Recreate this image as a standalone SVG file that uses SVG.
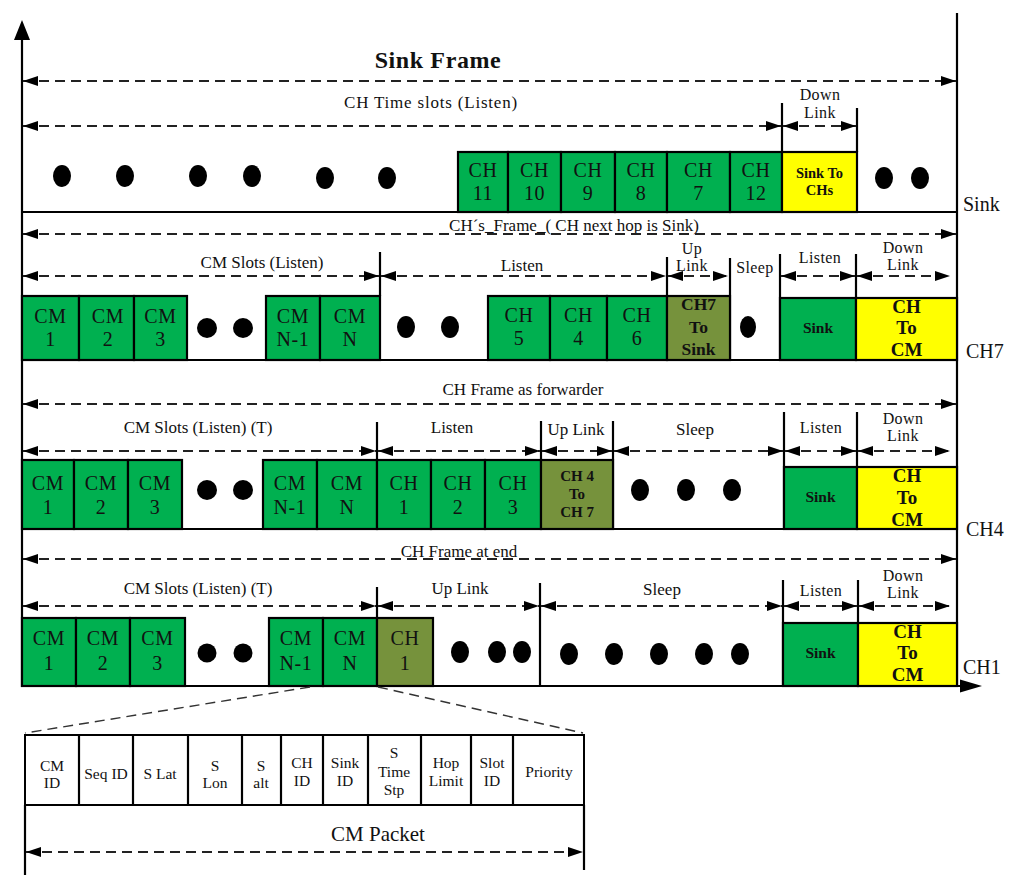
<svg xmlns="http://www.w3.org/2000/svg" width="1024" height="891" viewBox="0 0 1024 891">
<style>
.g{fill:#00B050;stroke:#000;stroke-width:2.2}
.y{fill:#FFFF00;stroke:#000;stroke-width:2.2}
.o{fill:#76923C;stroke:#000;stroke-width:2.2}
.w{fill:#fff;stroke:#000;stroke-width:2}
.ln{stroke:#000;stroke-width:2.2;fill:none}
.d{stroke:#222;stroke-width:1.8;stroke-dasharray:10 6;fill:none;marker-start:url(#a);marker-end:url(#a)}
.dl{stroke:#333;stroke-width:1.4;stroke-dasharray:10 6;fill:none}
.dot{fill:#000}
text{font-family:"Liberation Serif","Times New Roman",serif;fill:#111;text-anchor:middle}
.bx{font-size:20px;letter-spacing:0.6px}
.lb{font-size:17px}
.sm{font-size:16px;letter-spacing:0.4px}
.pf{font-size:15.5px}
.b{font-weight:bold}
.rl{font-size:20px;text-anchor:start}
</style>
<defs>
<marker id="a" viewBox="0 0 15 10" refX="15" refY="5" markerWidth="15" markerHeight="10" markerUnits="userSpaceOnUse" orient="auto-start-reverse" preserveAspectRatio="none"><path d="M0,0L15,5L0,10z" fill="#000"/></marker>
</defs>
<rect width="1024" height="891" fill="#fff"/>

<g id="axes">
<line class="ln" x1="22" y1="36" x2="22" y2="687" stroke-width="2.5"/>
<polygon points="22,20 14,40 30,40" fill="#000"/>
<line class="ln" x1="957" y1="13" x2="957" y2="687" stroke-width="2.5"/>
<line class="ln" x1="22" y1="686" x2="962" y2="686" stroke-width="2.5"/>
<polygon points="982,686 960,679.5 960,692.5" fill="#000"/>
<line class="ln" x1="22" y1="212" x2="957" y2="212"/>
<line class="ln" x1="22" y1="360" x2="957" y2="360"/>
<line class="ln" x1="22" y1="529" x2="957" y2="529"/>
</g>

<g id="titles">
<text x="438" y="68" font-size="24" letter-spacing="0.6" class="b">Sink Frame</text>
<text x="431" y="108" class="lb" letter-spacing="0.8">CH Time slots (Listen)</text>
<text x="820" y="100" class="sm">Down</text>
<text x="820" y="118" class="sm">Link</text>
<rect x="445" y="216" width="258" height="18" fill="#fff"/>
<text x="574" y="231" class="lb">CH´s_Frame_( CH next hop is Sink)</text>
<text x="262" y="268" class="lb">CM Slots (Listen)</text>
<text x="522" y="271" class="lb">Listen</text>
<text x="692" y="254" class="sm">Up</text>
<text x="692" y="271" class="sm">Link</text>
<text x="755" y="273" class="sm">Sleep</text>
<text x="820" y="263" class="sm">Listen</text>
<text x="903" y="253" class="sm">Down</text>
<text x="903" y="270" class="sm">Link</text>
<text x="523" y="395" class="lb">CH Frame as forwarder</text>
<text x="198" y="433" class="lb">CM Slots (Listen) (T)</text>
<text x="452" y="433" class="lb">Listen</text>
<text x="576" y="435" class="lb">Up Link</text>
<text x="695" y="435" class="lb">Sleep</text>
<text x="821" y="433" class="sm">Listen</text>
<text x="903" y="424" class="sm">Down</text>
<text x="903" y="441" class="sm">Link</text>
<rect x="396" y="543" width="126" height="17" fill="#fff"/>
<text x="459" y="557" class="lb">CH Frame at end</text>
<text x="198" y="594" class="lb">CM Slots (Listen) (T)</text>
<text x="460" y="594" class="lb">Up Link</text>
<text x="662" y="595" class="lb">Sleep</text>
<text x="821" y="596" class="sm">Listen</text>
<text x="903" y="581" class="sm">Down</text>
<text x="903" y="598" class="sm">Link</text>
<text x="963" y="211" class="rl">Sink</text>
<text x="966" y="358" class="rl">CH7</text>
<text x="966" y="536" class="rl">CH4</text>
<text x="963" y="674" class="rl">CH1</text>
</g>

<g id="ticks">
<line class="ln" x1="782" y1="103" x2="782" y2="152"/>
<line class="ln" x1="857" y1="108" x2="857" y2="152"/>
<line class="ln" x1="380" y1="252" x2="380" y2="296"/>
<line class="ln" x1="667" y1="257" x2="667" y2="296"/>
<line class="ln" x1="730" y1="258" x2="730" y2="360"/>
<line class="ln" x1="780" y1="254" x2="780" y2="360"/>
<line class="ln" x1="856" y1="254" x2="856" y2="298"/>
<line class="ln" x1="377" y1="422" x2="377" y2="460"/>
<line class="ln" x1="541" y1="421" x2="541" y2="460"/>
<line class="ln" x1="613" y1="421" x2="613" y2="529"/>
<line class="ln" x1="784" y1="412" x2="784" y2="529"/>
<line class="ln" x1="857" y1="412" x2="857" y2="467"/>
<line class="ln" x1="377" y1="587" x2="377" y2="618"/>
<line class="ln" x1="540" y1="583" x2="540" y2="686"/>
<line class="ln" x1="783" y1="580" x2="783" y2="686"/>
<line class="ln" x1="858" y1="580" x2="858" y2="623"/>
</g>

<g id="sink-row">
<g id="s-ch11"><rect class="g" x="458" y="152" width="50" height="60"/><text class="bx" x="483" y="177">CH</text><text class="bx" x="483" y="200">11</text></g>
<g id="s-ch10"><rect class="g" x="508" y="152" width="53" height="60"/><text class="bx" x="534.5" y="177">CH</text><text class="bx" x="534.5" y="200">10</text></g>
<g id="s-ch9"><rect class="g" x="561" y="152" width="54" height="60"/><text class="bx" x="588" y="177">CH</text><text class="bx" x="588" y="200">9</text></g>
<g id="s-ch8"><rect class="g" x="615" y="152" width="52" height="60"/><text class="bx" x="641" y="177">CH</text><text class="bx" x="641" y="200">8</text></g>
<g id="s-ch7"><rect class="g" x="667" y="152" width="63" height="60"/><text class="bx" x="698.5" y="177">CH</text><text class="bx" x="698.5" y="200">7</text></g>
<g id="s-ch12"><rect class="g" x="730" y="152" width="52" height="60"/><text class="bx" x="756" y="177">CH</text><text class="bx" x="756" y="200">12</text></g>
<g id="s-down"><rect class="y" x="782" y="152" width="75" height="60"/><text class="b" font-size="14.5" x="819.5" y="178">Sink To</text><text class="b" font-size="14.5" x="819.5" y="195">CHs</text></g>
<g id="s-dots">
<ellipse class="dot" cx="62" cy="176" rx="9" ry="11"/><ellipse class="dot" cx="125" cy="176" rx="9" ry="11"/>
<ellipse class="dot" cx="198" cy="176" rx="9" ry="11"/><ellipse class="dot" cx="252" cy="176" rx="9" ry="11"/>
<ellipse class="dot" cx="325" cy="178" rx="9" ry="11"/><ellipse class="dot" cx="387" cy="178" rx="9" ry="11"/>
<ellipse class="dot" cx="884" cy="178" rx="9" ry="11"/><ellipse class="dot" cx="920" cy="178" rx="9" ry="11"/>
</g>
</g>

<g id="ch7-row">
<g id="c7-cm1"><rect class="g" x="22" y="296" width="57" height="64"/><text class="bx" x="50.5" y="323">CM</text><text class="bx" x="50.5" y="346">1</text></g>
<g id="c7-cm2"><rect class="g" x="79" y="296" width="55" height="64"/><text class="bx" x="108" y="323">CM</text><text class="bx" x="108" y="346">2</text></g>
<g id="c7-cm3"><rect class="g" x="134" y="296" width="53" height="64"/><text class="bx" x="160.5" y="323">CM</text><text class="bx" x="160.5" y="346">3</text></g>
<g id="c7-cmn1"><rect class="g" x="266" y="296" width="54" height="64"/><text class="bx" x="293" y="323">CM</text><text class="bx" x="293" y="346">N-1</text></g>
<g id="c7-cmn"><rect class="g" x="320" y="296" width="60" height="64"/><text class="bx" x="350" y="323">CM</text><text class="bx" x="350" y="346">N</text></g>
<g id="c7-ch5"><rect class="g" x="488" y="296" width="62" height="64"/><text class="bx" x="519" y="322">CH</text><text class="bx" x="519" y="345">5</text></g>
<g id="c7-ch4"><rect class="g" x="550" y="296" width="57" height="64"/><text class="bx" x="578.5" y="322">CH</text><text class="bx" x="578.5" y="345">4</text></g>
<g id="c7-ch6"><rect class="g" x="607" y="296" width="60" height="64"/><text class="bx" x="637" y="322">CH</text><text class="bx" x="637" y="345">6</text></g>
<g id="c7-up"><rect class="o" x="667" y="296" width="63" height="64"/><text class="b" font-size="17.5" x="698.5" y="310">CH7</text><text class="b" font-size="17.5" x="698.5" y="333">To</text><text class="b" font-size="17.5" x="698.5" y="355">Sink</text></g>
<g id="c7-sink"><rect class="g" x="780" y="298" width="76" height="62"/><text class="b" font-size="15.5" x="818" y="333">Sink</text></g>
<g id="c7-down"><rect class="y" x="856" y="298" width="101" height="62"/><text class="b" font-size="19" x="906.5" y="313">CH</text><text class="b" font-size="19" x="906.5" y="334">To</text><text class="b" font-size="19" x="906.5" y="356">CM</text></g>
<g id="c7-dots">
<circle class="dot" cx="207" cy="328" r="10"/><circle class="dot" cx="243" cy="328" r="10"/>
<ellipse class="dot" cx="406" cy="327" rx="9" ry="11"/><ellipse class="dot" cx="450" cy="327" rx="9" ry="11"/>
<ellipse class="dot" cx="748" cy="327" rx="8" ry="11"/>
</g>
</g>

<g id="ch4-row">
<g id="c4-cm1"><rect class="g" x="22" y="460" width="52" height="69"/><text class="bx" x="48" y="490">CM</text><text class="bx" x="48" y="514">1</text></g>
<g id="c4-cm2"><rect class="g" x="74" y="460" width="54" height="69"/><text class="bx" x="101" y="490">CM</text><text class="bx" x="101" y="514">2</text></g>
<g id="c4-cm3"><rect class="g" x="128" y="460" width="54" height="69"/><text class="bx" x="155" y="490">CM</text><text class="bx" x="155" y="514">3</text></g>
<g id="c4-cmn1"><rect class="g" x="263" y="460" width="54" height="69"/><text class="bx" x="290" y="490">CM</text><text class="bx" x="290" y="514">N-1</text></g>
<g id="c4-cmn"><rect class="g" x="317" y="460" width="60" height="69"/><text class="bx" x="347" y="490">CM</text><text class="bx" x="347" y="514">N</text></g>
<g id="c4-ch1"><rect class="g" x="377" y="460" width="54" height="69"/><text class="bx" x="404" y="490">CH</text><text class="bx" x="404" y="514">1</text></g>
<g id="c4-ch2"><rect class="g" x="431" y="460" width="54" height="69"/><text class="bx" x="458" y="490">CH</text><text class="bx" x="458" y="514">2</text></g>
<g id="c4-ch3"><rect class="g" x="485" y="460" width="56" height="69"/><text class="bx" x="513" y="490">CH</text><text class="bx" x="513" y="514">3</text></g>
<g id="c4-up"><rect class="o" x="541" y="460" width="72" height="69"/><text class="b" font-size="15" x="577" y="481">CH 4</text><text class="b" font-size="15" x="577" y="499">To</text><text class="b" font-size="15" x="577" y="517">CH 7</text></g>
<g id="c4-sink"><rect class="g" x="784" y="467" width="73" height="62"/><text class="b" font-size="15.5" x="820.5" y="502">Sink</text></g>
<g id="c4-down"><rect class="y" x="857" y="467" width="100" height="62"/><text class="b" font-size="19" x="907" y="482">CH</text><text class="b" font-size="19" x="907" y="504">To</text><text class="b" font-size="19" x="907" y="526">CM</text></g>
<g id="c4-dots">
<circle class="dot" cx="207" cy="490" r="10"/><circle class="dot" cx="243" cy="490" r="10"/>
<ellipse class="dot" cx="640" cy="490" rx="9" ry="11"/><ellipse class="dot" cx="686" cy="490" rx="9" ry="11"/><ellipse class="dot" cx="732" cy="490" rx="9" ry="11"/>
</g>
</g>

<g id="ch1-row">
<g id="c1-cm1"><rect class="g" x="22" y="618" width="54" height="68"/><text class="bx" x="49" y="645">CM</text><text class="bx" x="49" y="670">1</text></g>
<g id="c1-cm2"><rect class="g" x="76" y="618" width="54" height="68"/><text class="bx" x="103" y="645">CM</text><text class="bx" x="103" y="670">2</text></g>
<g id="c1-cm3"><rect class="g" x="130" y="618" width="55" height="68"/><text class="bx" x="157.5" y="645">CM</text><text class="bx" x="157.5" y="670">3</text></g>
<g id="c1-cmn1"><rect class="g" x="269" y="618" width="54" height="68"/><text class="bx" x="296" y="645">CM</text><text class="bx" x="296" y="670">N-1</text></g>
<g id="c1-cmn"><rect class="g" x="323" y="618" width="54" height="68"/><text class="bx" x="350" y="645">CM</text><text class="bx" x="350" y="670">N</text></g>
<g id="c1-up"><rect class="o" x="377" y="618" width="56" height="68"/><text class="bx" x="405" y="645">CH</text><text class="bx" x="405" y="670">1</text></g>
<g id="c1-sink"><rect class="g" x="783" y="623" width="75" height="63"/><text class="b" font-size="15.5" x="820.5" y="658">Sink</text></g>
<g id="c1-down"><rect class="y" x="858" y="623" width="99" height="63"/><text class="b" font-size="19" x="907.5" y="638">CH</text><text class="b" font-size="19" x="907.5" y="659">To</text><text class="b" font-size="19" x="907.5" y="681">CM</text></g>
<g id="c1-dots">
<circle class="dot" cx="207" cy="653" r="9.5"/><circle class="dot" cx="243" cy="653" r="9.5"/>
<ellipse class="dot" cx="460" cy="652" rx="9" ry="11"/><ellipse class="dot" cx="497" cy="652" rx="9" ry="11"/><ellipse class="dot" cx="522" cy="652" rx="9" ry="11"/>
<ellipse class="dot" cx="569" cy="654" rx="9" ry="11"/><ellipse class="dot" cx="614" cy="654" rx="9" ry="11"/><ellipse class="dot" cx="659" cy="654" rx="9" ry="11"/><ellipse class="dot" cx="704" cy="654" rx="9" ry="11"/><ellipse class="dot" cx="740" cy="654" rx="9" ry="11"/>
</g>
</g>

<g id="connectors">
<line class="d" x1="23" y1="81" x2="956" y2="81"/>
<line class="d" x1="23" y1="126" x2="781" y2="126"/>
<line class="d" x1="783" y1="126" x2="856" y2="126"/>
<line class="d" x1="23" y1="234" x2="956" y2="234"/>
<line class="d" x1="23" y1="276" x2="379" y2="276"/>
<line class="d" x1="381" y1="276" x2="666" y2="276"/>
<line class="d" x1="668" y1="276" x2="728" y2="276"/>
<line class="d" x1="781" y1="276" x2="855" y2="276"/>
<line class="d" x1="857" y1="276" x2="950" y2="276"/>
<line class="d" x1="23" y1="404" x2="956" y2="404"/>
<line class="d" x1="23" y1="451" x2="376" y2="451"/>
<line class="d" x1="378" y1="451" x2="540" y2="451"/>
<line class="d" x1="542" y1="451" x2="612" y2="451"/>
<line class="d" x1="614" y1="451" x2="783" y2="451"/>
<line class="d" x1="785" y1="451" x2="856" y2="451"/>
<line class="d" x1="858" y1="451" x2="950" y2="451"/>
<line class="d" x1="23" y1="559" x2="956" y2="559"/>
<line class="d" x1="23" y1="606" x2="376" y2="606"/>
<line class="d" x1="378" y1="606" x2="539" y2="606"/>
<line class="d" x1="541" y1="606" x2="782" y2="606"/>
<line class="d" x1="784" y1="606" x2="857" y2="606"/>
<line class="d" x1="859" y1="606" x2="950" y2="606"/>
<line class="dl" x1="310" y1="687" x2="25" y2="733"/>
<line class="dl" x1="378" y1="687" x2="583" y2="733"/>
<line class="d" x1="26" y1="852" x2="583" y2="852"/>
</g>

<g id="packet">
<rect class="w" x="25" y="735" width="559" height="70"/>
<line class="ln" x1="79" y1="735" x2="79" y2="805"/>
<line class="ln" x1="133" y1="735" x2="133" y2="805"/>
<line class="ln" x1="188" y1="735" x2="188" y2="805"/>
<line class="ln" x1="242" y1="735" x2="242" y2="805"/>
<line class="ln" x1="281" y1="735" x2="281" y2="805"/>
<line class="ln" x1="323" y1="735" x2="323" y2="805"/>
<line class="ln" x1="368" y1="735" x2="368" y2="805"/>
<line class="ln" x1="421" y1="735" x2="421" y2="805"/>
<line class="ln" x1="471" y1="735" x2="471" y2="805"/>
<line class="ln" x1="513" y1="735" x2="513" y2="805"/>
<line class="ln" x1="25" y1="805" x2="25" y2="875"/>
<line class="ln" x1="584" y1="805" x2="584" y2="870"/>
<text class="pf" x="52" y="771">CM</text><text class="pf" x="52" y="788">ID</text>
<text class="pf" x="106" y="779">Seq ID</text>
<text class="pf" x="160" y="779">S Lat</text>
<text class="pf" x="215" y="771">S</text><text class="pf" x="215" y="788">Lon</text>
<text class="pf" x="261" y="771">S</text><text class="pf" x="261" y="788">alt</text>
<text class="pf" x="302" y="768">CH</text><text class="pf" x="302" y="786">ID</text>
<text class="pf" x="345" y="768">Sink</text><text class="pf" x="345" y="786">ID</text>
<text class="pf" x="394" y="758">S</text><text class="pf" x="394" y="777">Time</text><text class="pf" x="394" y="795">Stp</text>
<text class="pf" x="446" y="768">Hop</text><text class="pf" x="446" y="786">Limit</text>
<text class="pf" x="492" y="768">Slot</text><text class="pf" x="492" y="786">ID</text>
<text class="pf" x="549" y="777">Priority</text>
<text x="378" y="841" font-size="21">CM Packet</text>
</g>
</svg>
